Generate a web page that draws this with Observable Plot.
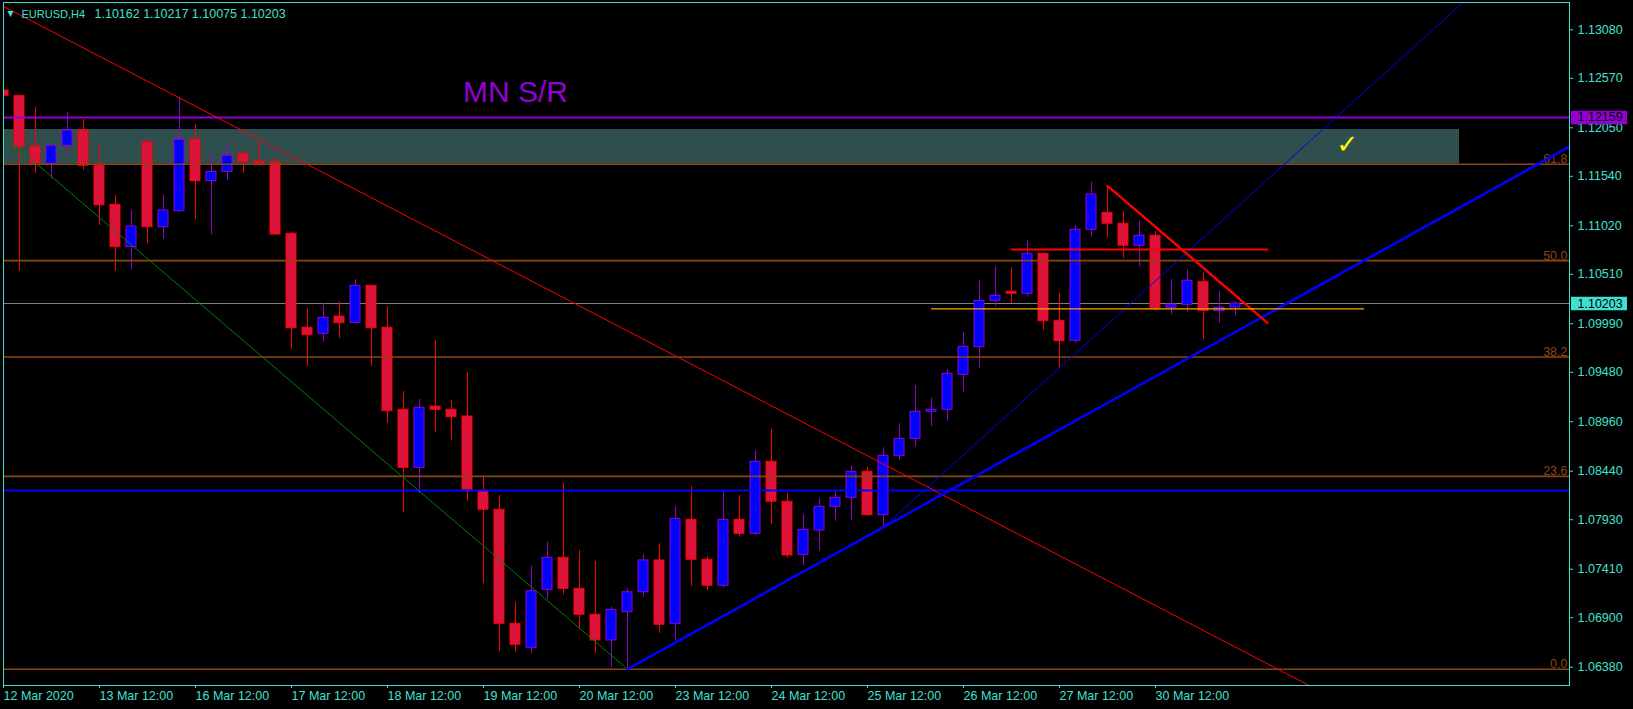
<!DOCTYPE html>
<html>
<head>
<meta charset="utf-8">
<script src="https://cdn.jsdelivr.net/npm/d3@7"></script>
<script src="https://cdn.jsdelivr.net/npm/@observablehq/plot@0.6"></script>
<style>
  html, body { margin: 0; padding: 0; background: #000; }
  #chart svg { display: block; }
</style>
</head>
<body>
<div id="chart"></div>
<script>
// ---- EURUSD H4 candles (bar 0 = 12 Mar 2020 12:00, step 4h) ----
const opens = [
  1.12442, 1.12386, 1.11853, 1.11672, 1.11861, 1.12022, 1.11651, 1.11240, 1.10795, 1.11895,
  1.11005, 1.11173, 1.11924, 1.11489, 1.11587, 1.11777, 1.11693, 1.11685, 1.10936, 1.09948,
  1.09885, 1.10066, 1.10000, 1.10389, 1.09948, 1.09086, 1.08476, 1.09120, 1.09086, 1.09015,
  1.08230, 1.08035, 1.06836, 1.06584, 1.07194, 1.07530, 1.07204, 1.06931, 1.06661, 1.06958,
  1.07168, 1.07502, 1.06836, 1.07929, 1.07509, 1.07236, 1.07929, 1.07782, 1.08539, 1.08119,
  1.07562, 1.07817, 1.08066, 1.08161, 1.08434, 1.07978, 1.08602, 1.08781, 1.09065, 1.09086,
  1.09454, 1.09744, 1.10231, 1.10326, 1.10305, 1.10725, 1.10021, 1.09811, 1.10978, 1.11156,
  1.11041, 1.10810, 1.10915, 1.10158, 1.10189, 1.10431, 1.10126, 1.10162
];
const highs = [
  1.13010, 1.12386, 1.12266, 1.11861, 1.12211, 1.12137, 1.11864, 1.11338, 1.11181, 1.11941,
  1.11338, 1.12372, 1.12085, 1.11783, 1.11864, 1.11793, 1.11895, 1.11748, 1.10953, 1.10147,
  1.10200, 1.10224, 1.10455, 1.10389, 1.10172, 1.09278, 1.09194, 1.09814, 1.09183, 1.09478,
  1.08377, 1.08185, 1.07063, 1.07439, 1.07691, 1.08314, 1.07607, 1.07491, 1.07011, 1.07204,
  1.07565, 1.07677, 1.08069, 1.08279, 1.07544, 1.08227, 1.08185, 1.08658, 1.08879, 1.08203,
  1.07985, 1.08153, 1.08230, 1.08493, 1.08482, 1.08686, 1.08939, 1.09341, 1.09204, 1.09506,
  1.09898, 1.10445, 1.10592, 1.10581, 1.10865, 1.10742, 1.10305, 1.11023, 1.11475, 1.11440,
  1.11170, 1.11065, 1.10960, 1.10455, 1.10560, 1.10526, 1.10329, 1.10217
];
const lows = [
  1.11969, 1.10543, 1.11573, 1.11514, 1.11759, 1.11601, 1.11023, 1.10543, 1.10560, 1.10831,
  1.10876, 1.11163, 1.11086, 1.10928, 1.11496, 1.11573, 1.11643, 1.10918, 1.09720, 1.09541,
  1.09796, 1.09838, 1.09990, 1.09541, 1.08945, 1.08009, 1.08203, 1.08850, 1.08763, 1.08125,
  1.07257, 1.06548, 1.06538, 1.06521, 1.07089, 1.07141, 1.06773, 1.06527, 1.06377, 1.06359,
  1.07116, 1.06737, 1.06653, 1.07231, 1.07179, 1.07215, 1.07747, 1.07764, 1.07880, 1.07526,
  1.07449, 1.07599, 1.07915, 1.07922, 1.07964, 1.07852, 1.08553, 1.08693, 1.08913, 1.08966,
  1.09271, 1.09523, 1.10175, 1.10200, 1.10269, 1.09919, 1.09527, 1.09786, 1.10900, 1.10889,
  1.10679, 1.10592, 1.10122, 1.10087, 1.10112, 1.09825, 1.09996, 1.10075
];
const closes = [
  1.12386, 1.11846, 1.11672, 1.11861, 1.12022, 1.11651, 1.11236, 1.10795, 1.11012, 1.11005,
  1.11181, 1.11924, 1.11489, 1.11587, 1.11756, 1.11693, 1.11672, 1.10928, 1.09943, 1.09870,
  1.10053, 1.09996, 1.10389, 1.09943, 1.09071, 1.08476, 1.09107, 1.09086, 1.09008, 1.08245,
  1.08035, 1.06836, 1.06616, 1.07179, 1.07530, 1.07204, 1.06931, 1.06661, 1.06983, 1.07168,
  1.07502, 1.06826, 1.07940, 1.07509, 1.07236, 1.07929, 1.07782, 1.08539, 1.08119, 1.07554,
  1.07824, 1.08066, 1.08161, 1.08434, 1.07978, 1.08602, 1.08781, 1.09065, 1.09086, 1.09464,
  1.09748, 1.10231, 1.10284, 1.10305, 1.10725, 1.10017, 1.09807, 1.10978, 1.11349, 1.11041,
  1.10810, 1.10915, 1.10150, 1.10192, 1.10442, 1.10126, 1.10158, 1.10203
];

// ---- axes ----
const xTickBars = [0, 6, 12, 18, 24, 30, 36, 42, 48, 54, 60, 66, 72];
const xTickLabels = ["12 Mar 2020", "13 Mar 12:00", "16 Mar 12:00", "17 Mar 12:00", "18 Mar 12:00",
  "19 Mar 12:00", "20 Mar 12:00", "23 Mar 12:00", "24 Mar 12:00", "25 Mar 12:00",
  "26 Mar 12:00", "27 Mar 12:00", "30 Mar 12:00"];
const yTicks = [1.06380, 1.06900, 1.07410, 1.07930, 1.08440, 1.08960, 1.09480,
  1.09990, 1.10510, 1.11020, 1.11540, 1.12050, 1.12570, 1.13080];

// ---- levels & drawings ----
const fibLabels = ["0.0", "23.6", "38.2", "50.0", "61.8"];
const fibPrices = [1.06359, 1.08386, 1.09640, 1.10654, 1.11667];
const srZone = {fromBar: -1, toBar: 91, low: 1.11667, high: 1.12032};
const mnLevel = [1.12159];
const blueLevel = [1.08237];
const redFallLine = [[0, 1.13326], [82, 1.06153]];
const greenFallLine = [[0, 1.11969], [39, 1.06359]];
const thickRiseAnchors = [[39, 1.06359], [55, 1.07852]];
const thinRiseAnchors = [[55, 1.07852], [66, 1.09527]];
const redShortLine = [[69, 1.11440], [79, 1.09999]];
const redShortLevel = [[63, 1.10771], [79, 1.10771]];
const orangeShortLevel = [[58, 1.10147], [85, 1.10147]];
const notes = [{label: "MN S/R", bar: 32, price: 1.12420}, {label: "✓", bar: 84, price: 1.11869}];
const symbolName = "EURUSD,H4";

// ---- derived ----
const bars = opens.map((o, i) => ({i, open: o, high: highs[i], low: lows[i], close: closes[i]}));
const bull = d => d.close >= d.open;
const last = bars[bars.length - 1];
const ray = ([a, b], xEnd) => [a, [xEnd, a[1] + (b[1] - a[1]) / (b[0] - a[0]) * (xEnd - a[0])]];
const xLabelMap = new Map(xTickBars.map((b, k) => [b, xTickLabels[k]]));

const AX = "#40E0D0", FIB = "#8B4513", PURPLE = "#9400D3";
const BULL_FILL = "#0000FF", BULL_EDGE = "#9400D3", BEAR_FILL = "#DC143C", BEAR_EDGE = "#FF0000";
const FONT = "'Liberation Sans', Arial, sans-serif";
const xLo = 0, xHi = 97.875;           // visible bar range
const yLo = 1.061876, yHi = 1.13367;    // visible price range
const tags = [
  {price: mnLevel[0], bg: PURPLE},
  {price: last.close, bg: AX}
];
const P = d => d[0], Q = d => d[1];

const chart = Plot.plot({
  width: 1633,
  height: 709,
  marginLeft: 3,
  marginRight: 64,
  marginTop: 2,
  marginBottom: 24,
  style: {background: "#000", color: AX, fontFamily: FONT, fontSize: "12.5px"},
  x: {type: "linear", domain: [xLo, xHi]},
  y: {type: "linear", domain: [yLo, yHi]},
  color: {type: "identity"},
  marks: [
    // S/R zone
    Plot.rect([srZone], {x1: "fromBar", x2: "toBar", y1: "low", y2: "high", fill: "#2F4F4F", clip: true}),
    // bid line
    Plot.ruleY([last.close], {stroke: "#808080", strokeWidth: 1}),
    // candles
    Plot.ruleX(bars, {x: "i", y1: "low", y2: "high", stroke: d => bull(d) ? BULL_EDGE : BEAR_EDGE, strokeWidth: 1, clip: true}),
    Plot.rect(bars, {
      x1: d => d.i - 0.3125, x2: d => d.i + 0.3125, y1: "open", y2: "close",
      fill: d => bull(d) ? BULL_FILL : BEAR_FILL,
      stroke: d => bull(d) ? BULL_EDGE : BEAR_EDGE, strokeWidth: 1, inset: 0, clip: true
    }),
    // horizontal levels
    Plot.ruleY(fibPrices, {stroke: FIB, strokeWidth: 1.6}),
    Plot.text(fibPrices, {y: d => d, text: (d, i) => fibLabels[i], frameAnchor: "right", textAnchor: "end",
      lineAnchor: "bottom", dx: -2, dy: -1, fill: FIB, fontSize: 12.5}),
    Plot.ruleY(mnLevel, {stroke: PURPLE, strokeWidth: 2}),
    Plot.ruleY(blueLevel, {stroke: "#0000FF", strokeWidth: 2}),
    // trend lines
    Plot.line(redFallLine, {x: P, y: Q, stroke: "#FF0000", strokeWidth: 1, clip: true}),
    Plot.line(greenFallLine, {x: P, y: Q, stroke: "#008000", strokeWidth: 1, clip: true}),
    Plot.line(ray(thinRiseAnchors, 100), {x: P, y: Q, stroke: "#0000FF", strokeWidth: 1, clip: true}),
    Plot.line(ray(thickRiseAnchors, 100), {x: P, y: Q, stroke: "#0000FF", strokeWidth: 2.6, clip: true}),
    Plot.line(redShortLine, {x: P, y: Q, stroke: "#FF0000", strokeWidth: 2.4, clip: true}),
    Plot.line(redShortLevel, {x: P, y: Q, stroke: "#FF0000", strokeWidth: 2, clip: true}),
    Plot.line(orangeShortLevel, {x: P, y: Q, stroke: "#FFA500", strokeWidth: 1.2, clip: true}),
    // annotations
    Plot.text([notes[0]], {x: "bar", y: "price", text: "label", fill: PURPLE, fontSize: 30, textAnchor: "middle",
      fontFamily: FONT}),
    Plot.text([notes[1]], {x: "bar", y: "price", text: "label", fill: "#FFFF00", fontSize: 26, textAnchor: "middle",
      fontFamily: "'DejaVu Sans', sans-serif"}),
    // header
    Plot.text(["▾"], {frameAnchor: "top-left", text: d => d, dx: 7, dy: 14, fontSize: 12, fill: AX,
      lineAnchor: "bottom", textAnchor: "middle", fontFamily: "'DejaVu Sans', sans-serif"}),
    Plot.text([symbolName], {frameAnchor: "top-left", text: d => d, dx: 18, dy: 15, fill: AX, fontSize: 11,
      lineAnchor: "bottom", textAnchor: "start"}),
    Plot.text([[last.open, last.high, last.low, last.close].map(v => v.toFixed(5)).join(" ")],
      {frameAnchor: "top-left", text: d => d, dx: 91, dy: 15, fill: AX, fontSize: 12.5, lineAnchor: "bottom", textAnchor: "start"}),
    // frame & axes
    Plot.frame({stroke: AX, strokeWidth: 1}),
    Plot.axisY(yTicks, {anchor: "right", tickSize: 3, tickPadding: 5, tickFormat: d3.format(".5f"),
      stroke: AX, fill: AX, fontSize: 12.5}),
    Plot.axisX(xTickBars, {anchor: "bottom", tickSize: 3, tickPadding: 3, tickFormat: d => xLabelMap.get(d),
      textAnchor: "start", stroke: AX, fill: AX, fontSize: 12.5}),
    // price tags on the right scale
    Plot.ruleY(tags, {y: "price", x1: xHi + 2 / 16, x2: xHi + 58 / 16, stroke: "bg", strokeWidth: 13.5}),
    Plot.text(tags, {y: "price", x: xHi + 0.5, text: d => d.price.toFixed(5), fill: "#000", textAnchor: "start", fontSize: 12.5})
  ]
});
document.getElementById("chart").appendChild(chart);
</script>
</body>
</html>
